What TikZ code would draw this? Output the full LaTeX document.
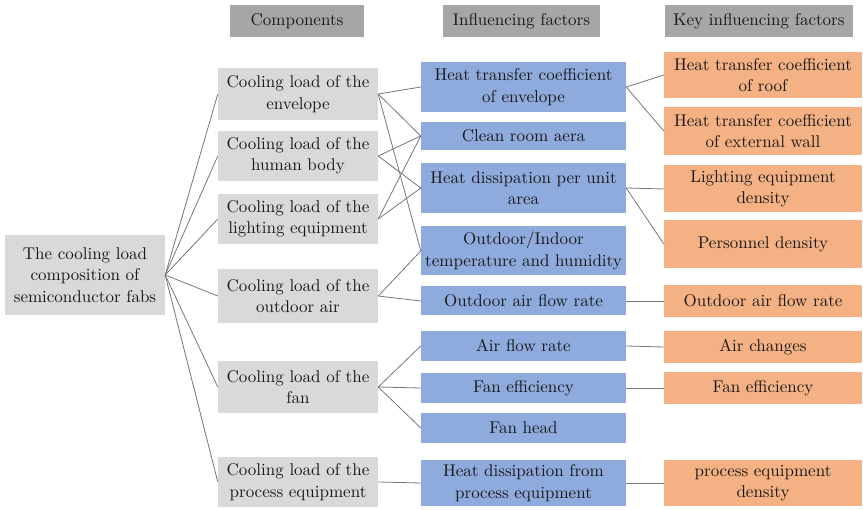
\documentclass[tikz,border=0pt]{standalone}
\usepackage{xcolor}
\usepackage{tikz}
\usepackage{fontspec}
\setmainfont{lmroman10-regular.otf}

\definecolor{compgray}{RGB}{217,217,217}
\definecolor{headgray}{RGB}{166,166,166}
\definecolor{factblue}{RGB}{143,170,220}
\definecolor{keyorange}{RGB}{244,177,131}
\definecolor{linkgray}{RGB}{118,118,118}

\begin{document}
\begin{tikzpicture}[
  x=1pt, y=-1pt,
  box/.style={inner sep=0pt, align=center, text=black!90,
              font=\fontsize{17}{21.5}\selectfont},
  head/.style={box, fill=headgray, minimum height=32pt},
  comp/.style={box, fill=compgray, minimum width=160pt},
  fact/.style={box, fill=factblue, minimum width=205pt},
  keyf/.style={box, fill=keyorange, minimum width=198pt},
  link/.style={draw=linkgray, line width=0.8pt}
]
\useasboundingbox (0,0) rectangle (863,510);

% column titles
\node[head, minimum width=134pt] (hcomp) at (297,21)   {Components};
\node[head, minimum width=157pt] (hfact) at (521.5,21) {Influencing factors};
\node[head, minimum width=188pt] (hkey)  at (759,21)   {Key influencing factors};

% root
\node[comp, minimum height=80pt] (root) at (85,275)
  {The cooling load\\composition of\\semiconductor fabs};

% components
\node[comp, minimum height=52pt] (c1) at (298,94)  {Cooling load of the\\envelope};
\node[comp, minimum height=50pt] (c2) at (298,156) {Cooling load of the\\human body};
\node[comp, minimum height=50pt] (c3) at (298,219) {Cooling load of the\\lighting equipment};
\node[comp, minimum height=54pt] (c4) at (298,296) {Cooling load of the\\outdoor air};
\node[comp, minimum height=52pt] (c5) at (298,387) {Cooling load of the\\fan};
\node[comp, minimum height=50pt] (c6) at (298,482) {Cooling load of the\\process equipment};

% influencing factors
\node[fact, minimum height=50pt] (f1) at (523.5,87)  {Heat transfer coefficient\\of envelope};
\node[fact, minimum height=28pt] (f2) at (523.5,136) {Clean room aera};
\node[fact, minimum height=50pt] (f3) at (523.5,188) {Heat dissipation per unit\\area};
\node[fact, minimum height=49pt] (f4) at (523.5,251) {Outdoor/Indoor\\temperature and humidity};
\node[fact, minimum height=29pt] (f5) at (523.5,301) {Outdoor air flow rate};
\node[fact, minimum height=30pt] (f6) at (523.5,346) {Air flow rate};
\node[fact, minimum height=30pt] (f7) at (523.5,388) {Fan efficiency};
\node[fact, minimum height=30pt] (f8) at (523.5,428) {Fan head};
\node[fact, minimum height=46pt] (f9) at (523.5,483) {Heat dissipation from\\process equipment};

% key influencing factors
\node[keyf, minimum height=46pt] (k1) at (763,75)  {Heat transfer coefficient\\of roof};
\node[keyf, minimum height=48pt] (k2) at (763,131) {Heat transfer coefficient\\of external wall};
\node[keyf, minimum height=47pt] (k3) at (763,189) {Lighting equipment\\density};
\node[keyf, minimum height=48pt] (k4) at (763,244) {Personnel density};
\node[keyf, minimum height=32pt] (k5) at (763,301) {Outdoor air flow rate};
\node[keyf, minimum height=32pt] (k6) at (763,347) {Air changes};
\node[keyf, minimum height=32pt] (k7) at (763,388) {Fan efficiency};
\node[keyf, minimum height=46pt] (k8) at (763,483) {process equipment\\density};

% root -> components
\foreach \c in {c1,c2,c3,c4,c5,c6}
  \draw[link] (root.east) -- (\c.west);

% components -> factors
\draw[link] (c1.east) -- (f1.west);
\draw[link] (c1.east) -- (f2.west);
\draw[link] (c1.east) -- (f4.west);
\draw[link] (c2.east) -- (f2.west);
\draw[link] (c2.east) -- (f3.west);
\draw[link] (c3.east) -- (f2.west);
\draw[link] (c3.east) -- (f3.west);
\draw[link] (c4.east) -- (f4.west);
\draw[link] (c4.east) -- (f5.west);
\draw[link] (c5.east) -- (f6.west);
\draw[link] (c5.east) -- (f7.west);
\draw[link] (c5.east) -- (f8.west);
\draw[link] (c6.east) -- (f9.west);

% factors -> key factors
\draw[link] (f1.east) -- (k1.west);
\draw[link] (f1.east) -- (k2.west);
\draw[link] (f3.east) -- (k3.west);
\draw[link] (f3.east) -- (k4.west);
\draw[link] (f5.east) -- (k5.west);
\draw[link] (f6.east) -- (k6.west);
\draw[link] (f7.east) -- (k7.west);
\draw[link] (f9.east) -- (k8.west);
\end{tikzpicture}
\end{document}
